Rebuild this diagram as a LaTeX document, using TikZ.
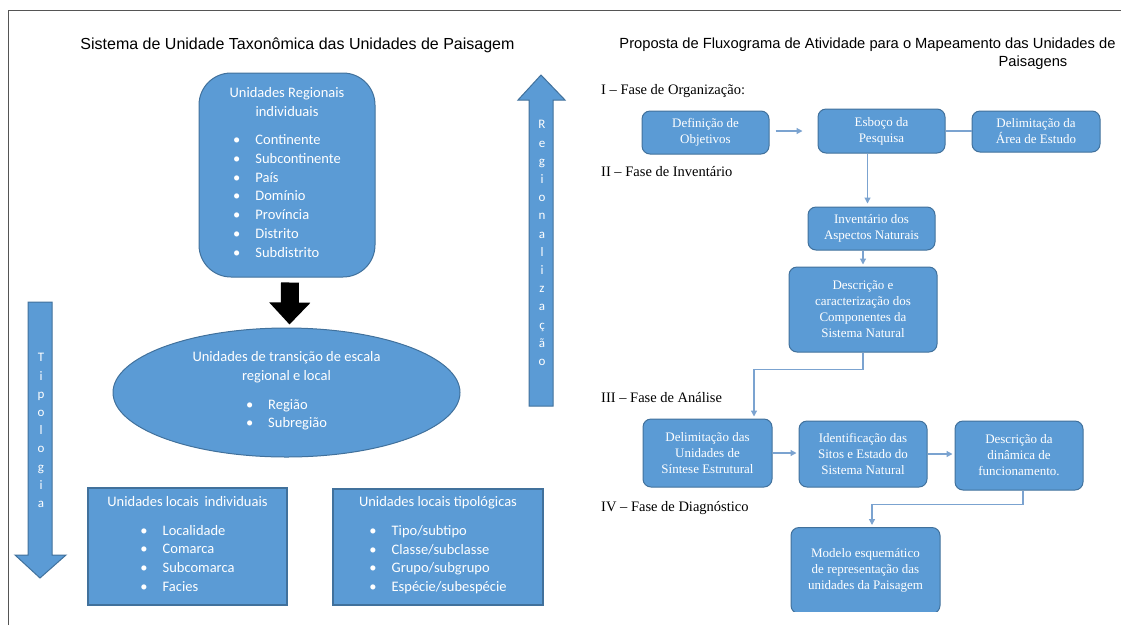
\documentclass[tikz,border=0pt]{standalone}
\usepackage{fontspec}
\setmainfont{Liberation Serif}
\newfontfamily\carlito{Carlito}
\newfontfamily\arialfont{Liberation Sans}
\usetikzlibrary{shapes.geometric,arrows.meta,positioning}
\definecolor{boxblue}{HTML}{5B9BD5}
\definecolor{boxedge}{HTML}{41719C}
\definecolor{flowline}{HTML}{7BA3D0}
\definecolor{framegray}{HTML}{555555}
\newcommand{\bulletlist}[1]{\begin{tabular}[t]{@{}l@{\hspace{15pt}}l@{}}#1\end{tabular}}
\begin{document}
\begin{tikzpicture}[x=1pt,y=-1pt,
    regbox/.style={fill=boxblue, draw=boxedge, line width=1pt, text=white,
      font=\carlito\fontsize{14.5}{18.7}\selectfont, align=center},
    localbox/.style={regbox, line width=1.5pt},
    flowbox/.style={fill=boxblue, draw=boxedge, line width=1pt, rounded corners=8pt,
      text=white, font=\fontsize{13}{16}\selectfont, align=center, inner sep=2pt},
    flow/.style={draw=flowline, line width=1.2pt, -{Triangle[length=6pt,width=6pt]}},
    flowplain/.style={draw=flowline, line width=1.2pt},
    phase/.style={anchor=west, inner sep=0pt, font=\fontsize{14.5}{16}\selectfont},
    titletext/.style={font=\arialfont\fontsize{16}{18}\selectfont, align=center},
    vletters/.style={text=white, font=\carlito\fontsize{13}{18.2}\selectfont, align=center},
    blockarrow/.style={fill=boxblue, draw=boxedge, line width=1pt}]
    \useasboundingbox (0,0) rectangle (1121,625);
    \draw[framegray, line width=1pt] (8,625) -- (8,10) -- (1121,10);

    % left: taxonomic system
    \node[titletext] (titleL) at (297.5,45) {Sistema de Unidade Taxonômica das Unidades de Paisagem};

    \node[regbox, rounded corners=32pt, minimum width=176, minimum height=204] (regionais) at (287,175)
      {Unidades Regionais\\individuais\\[10pt]
       \bulletlist{\textbullet & Continente\\ \textbullet & Subcontinente\\ \textbullet & País\\
       \textbullet & Domínio\\ \textbullet & Província\\ \textbullet & Distrito\\ \textbullet & Subdistrito}};

    \node[regbox, ellipse, minimum width=347, minimum height=129] (transicao) at (286.5,392.5)
      {Unidades de transição de escala\\regional e local\\[10pt]
       \bulletlist{\textbullet & Região\\ \textbullet & Subregião}};

    \draw[line width=18pt, -{Triangle[length=22pt,width=40pt]}]
      ([xshift=3pt,yshift=-5pt]regionais.south) -- ([xshift=3pt,yshift=3pt]transicao.north);

    \node[localbox, minimum width=199, minimum height=117] (individuais) at (187.5,546.5)
      {Unidades locais\, individuais\\[10pt]
       \bulletlist{\textbullet & Localidade\\ \textbullet & Comarca\\ \textbullet & Subcomarca\\ \textbullet & Facies}};

    \node[localbox, minimum width=210, minimum height=116] (tipologicas) at (438,547)
      {Unidades locais tipológicas\\[10pt]
       \bulletlist{\textbullet & Tipo/subtipo\\ \textbullet & Classe/subclasse\\ \textbullet & Grupo/subgrupo\\ \textbullet & Espécie/subespécie}};

    % side arrows
    \draw[blockarrow] (28,302) -- (52,302) -- (52,555) -- (66,555) -- (40,578) -- (15,555) -- (28,555) -- cycle;
    \node[vletters] (tipologia) at (41,430.5) {T\\i\\p\\o\\l\\o\\g\\i\\a};
    \draw[blockarrow] (529,406) -- (529,100) -- (518,100) -- (541,75) -- (565,100) -- (553,100) -- (553,406) -- cycle;
    \node[vletters] (regionalizacao) at (542,243) {R\\e\\g\\i\\o\\n\\a\\l\\i\\z\\a\\ç\\ã\\o};

    % right: flowchart
    \node[titletext, font=\arialfont\fontsize{14.7}{18}\selectfont] (titleR) at (867.5,45)
      {Proposta de Fluxograma de Atividade para o Mapeamento das Unidades de};
    \node[titletext, font=\arialfont\fontsize{14.7}{18}\selectfont] (titleR2) at (1033,63) {Paisagens};

    \node[phase] (faseI) at (601,91) {I -- Fase de Organização:};
    \node[flowbox, minimum width=127, minimum height=43] (def) at (705.5,132.5) {Definição de\\Objetivos};
    \node[flowbox, minimum width=127, minimum height=44] (esboco) at (881.5,131) {Esboço da\\Pesquisa};
    \node[flowbox, minimum width=128, minimum height=41] (delarea) at (1036,131.5) {Delimitação da\\Área de Estudo};

    \node[phase] (faseII) at (601,172) {II -- Fase de Inventário};
    \node[flowbox, minimum width=127, minimum height=43] (inv) at (871.5,228.5) {Inventário dos\\Aspectos Naturais};
    \node[flowbox, minimum width=148, minimum height=85] (desc) at (863,309.5)
      {Descrição e\\caracterização dos\\Componentes da\\Sistema Natural};

    \node[phase] (faseIII) at (601,398) {III -- Fase de Análise};
    \node[flowbox, minimum width=129, minimum height=68] (delun) at (707.5,453) {Delimitação das\\Unidades de\\Síntese Estrutural};
    \node[flowbox, minimum width=128, minimum height=66] (ident) at (863,454) {Identificação das\\Sitos e Estado do\\Sistema Natural};
    \node[flowbox, minimum width=128, minimum height=69] (din) at (1019,455.5) {Descrição da\\dinâmica de\\funcionamento.};

    \node[phase] (faseIV) at (601,508) {IV -- Fase de Diagnóstico};
    \begin{scope}
      \clip (0,0) rectangle (1121,611);
      \node[flowbox, minimum width=149, minimum height=86] (modelo) at (865.5,570.5)
        {Modelo esquemático\\de representação das\\unidades da Paisagem};
    \end{scope}

    \draw[flow, shorten <=6pt, shorten >=15pt] (def.east |- esboco.west) -- (esboco.west);
    \draw[flowplain] (esboco.east) -- (esboco.east -| delarea.west);
    \draw[flow, shorten >=3pt] ([xshift=-4pt]inv.north |- esboco.south) -- ([xshift=-4pt]inv.north);
    \draw[flow, shorten >=2pt] (desc.north |- inv.south) -- (desc.north);
    \draw[flow, shorten >=2pt] (desc.south) -- ++(0,17) -| ([xshift=46.5pt]delun.north);
    \draw[flow, shorten >=2pt] (delun.east) -- (delun.east -| ident.west);
    \draw[flow, shorten >=2pt] (ident.east) -- (ident.east -| din.west);
    \draw[flow, shorten >=2pt] ([xshift=4pt]din.south) -- ++(0,14) -| ([xshift=6.5pt]modelo.north);
\end{tikzpicture}
\end{document}
